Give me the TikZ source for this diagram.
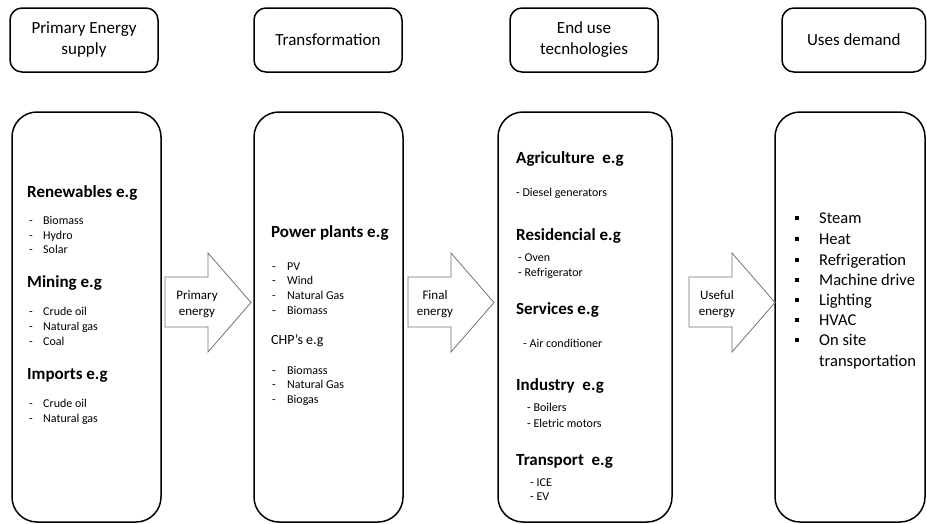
\documentclass[tikz,border=0pt]{standalone}
\usepackage{fontspec}
\setmainfont{Carlito}
\begin{document}
\begin{tikzpicture}[x=1pt,y=-1pt,
  topbox/.style={draw=black, line width=1.5pt, rounded corners=12pt, minimum height=64pt, align=center, inner sep=0pt, font=\fontsize{17}{21}\selectfont},
  bigbox/.style={draw=black, line width=1.5pt, rounded corners=25pt, minimum height=410pt, inner sep=0pt},
  hd/.style={anchor=base west, inner sep=0pt, font=\bfseries\fontsize{17}{20}\selectfont},
  sub/.style={anchor=base west, inner sep=0pt, font=\fontsize{14}{17}\selectfont},
  itm/.style={anchor=base west, inner sep=0pt, font=\fontsize{12}{14}\selectfont},
  use/.style={anchor=base west, inner sep=0pt, font=\fontsize{16.5}{20}\selectfont},
  sq/.style={fill=black, inner sep=0pt, minimum size=4pt},
  blockarrow/.style={draw=black!55, line width=0.8pt, fill=white, line join=miter},
  alabel/.style={align=center, inner sep=0pt, font=\fontsize{13}{16.5}\selectfont}]
\useasboundingbox (0,0) rectangle (927,523);

% header boxes
\node[topbox, minimum width=148pt] (t1) at (84,40) {Primary Energy\\supply};
\node[topbox, minimum width=148pt] (t2) at (328,40) {Transformation};
\node[topbox, minimum width=148pt] (t3) at (584,40) {End use\\tecnhologies};
\node[topbox, minimum width=143.5pt] (t4) at (853.75,40) {Uses demand};

% big boxes
\node[bigbox, minimum width=149pt] (b1) at (86.5,317) {};
\node[bigbox, minimum width=149pt] (b2) at (328.5,317) {};
\node[bigbox, minimum width=174pt] (b3) at (585,317) {};
\node[bigbox, minimum width=150pt] (b4) at (850,317) {};

% block arrows
\foreach \x/\n in {165/a1, 408/a2, 689/a3}{
  \draw[blockarrow] (\x,277) -- (\x+43,277) -- (\x+43,253) -- (\x+86,302.5) -- (\x+43,352) -- (\x+43,327) -- (\x,327) -- cycle;
}
\node[alabel] (l1) at (197,304) {Primary\\energy};
\node[alabel] (l2) at (435,304) {Final\\energy};
\node[alabel] (l3) at (717,304) {Useful\\energy};

% box 1 content
\node[hd] (r1) at (27,197.5) {Renewables e.g};
\foreach \y/\t [count=\i] in {224.5/Biomass, 239.2/Hydro, 253.9/Solar}{
  \node[itm] (r1d\i) at (29,\y) {-};
  \node[itm] (r1i\i) at (43,\y) {\t};
}
\node[hd] (m1) at (27,287.5) {Mining e.g};
\foreach \y/\t [count=\i] in {315.7/Crude oil, 330.4/Natural gas, 345.1/Coal}{
  \node[itm] (m1d\i) at (29,\y) {-};
  \node[itm] (m1i\i) at (43,\y) {\t};
}
\node[hd] (p1) at (27,379.5) {Imports e.g};
\foreach \y/\t [count=\i] in {407.7/Crude oil, 422.4/Natural gas}{
  \node[itm] (p1d\i) at (29,\y) {-};
  \node[itm] (p1i\i) at (43,\y) {\t};
}

% box 2 content
\node[hd] (pp) at (271,237.2) {Power plants e.g};
\foreach \y/\t [count=\i] in {270.4/PV, 284.7/Wind, 299.7/Natural Gas, 314.4/Biomass}{
  \node[itm] (ppd\i) at (272,\y) {-};
  \node[itm] (ppi\i) at (287,\y) {\t};
}
\node[sub] (chp) at (271,344.5) {CHP’s e.g};
\foreach \y/\t [count=\i] in {374.7/Biomass, 388.7/Natural Gas, 403.7/Biogas}{
  \node[itm] (chd\i) at (272,\y) {-};
  \node[itm] (chi\i) at (287,\y) {\t};
}

% box 3 content
\node[hd] (ag) at (516,163.5) {Agriculture\ \ e.g};
\node[itm] (ag1) at (516,196.7) {- Diesel generators};
\node[hd] (re) at (516,240.5) {Residencial e.g};
\node[itm] (re1) at (518,261.7) {- Oven};
\node[itm] (re2) at (518,276.7) {- Refrigerator};
\node[hd] (se) at (516,314.5) {Services e.g};
\node[itm] (se1) at (523,347.7) {- Air conditioner};
\node[hd] (in) at (516,390.5) {Industry\ \ e.g};
\node[itm] (in1) at (527,411.7) {- Boilers};
\node[itm] (in2) at (527,427.7) {- Eletric motors};
\node[hd] (tr) at (516,465.5) {Transport\ \ e.g};
\node[itm] (tr1) at (530,486.7) {- ICE};
\node[itm] (tr2) at (530,500.7) {- EV};

% box 4 content
\foreach \y/\t [count=\i] in {218/Steam, 239/Heat, 260/Refrigeration, 280/Machine drive, 300/Lighting, 320/HVAC, 340/On site}{
  \node[sq] (u\i) at (797,\y) {};
  \node[use] (ut\i) at (819,\y+5) {\t};
}
\node[use] (ut8) at (819,366) {transportation};
\end{tikzpicture}
\end{document}
